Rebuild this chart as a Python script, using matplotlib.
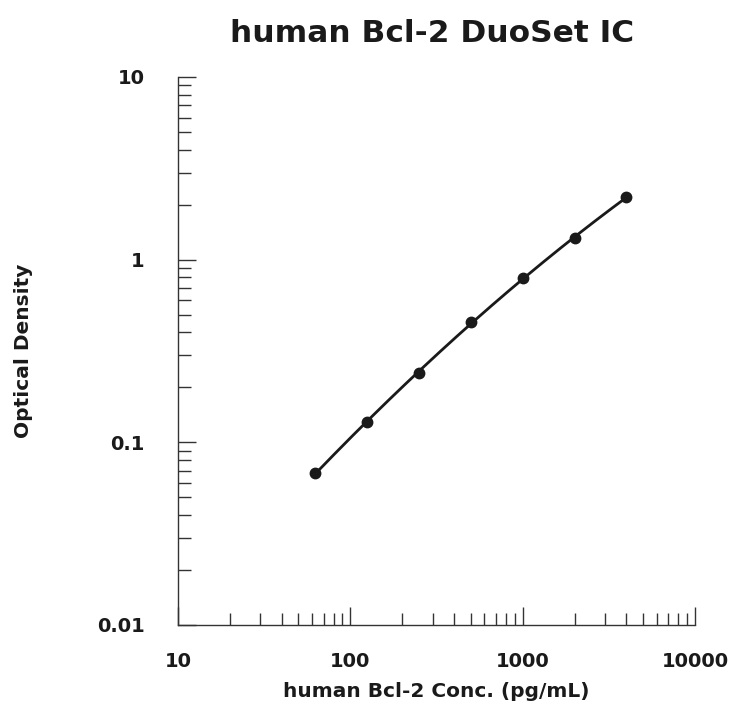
import numpy as np
import matplotlib
matplotlib.use("Agg")
import matplotlib.pyplot as plt
from matplotlib.ticker import LogLocator, NullFormatter, FixedLocator, FixedFormatter

# 표준곡선 데이터 (pg/mL, OD)
conc = [62.5, 125, 250, 500, 1000, 2000, 4000]
od = [0.0677, 0.1297, 0.239, 0.454, 0.791, 1.319, 2.19]

x_ticks = [10, 100, 1000, 10000]
x_tick_labels = ["10", "100", "1000", "10000"]
y_ticks = [0.01, 0.1, 1, 10]
y_tick_labels = ["0.01", "0.1", "1", "10"]

plt.rcParams['font.family'] = ['DejaVu Sans']
plt.rcParams['font.weight'] = 'bold'

fig = plt.figure(figsize=(7.32, 7.17), dpi=100)
ax = fig.add_axes([178/732, 92/717, 517/732, 548/717])

# 곡선: log-log 2차 피팅
lx = np.log10(conc)
ly = np.log10(od)
coef = np.polyfit(lx, ly, 2)
xs = np.linspace(lx[0], lx[-1], 200)
ax.plot(10**xs, 10**np.polyval(coef, xs), color='#1a1a1a', linewidth=2)
ax.plot(conc, od, 'o', color='#1a1a1a', markersize=7.5)

ax.set_xscale('log')
ax.set_yscale('log')
ax.set_xlim(10, 10000)
ax.set_ylim(0.01, 10)

for s in ['top', 'right']:
    ax.spines[s].set_visible(False)
for s in ['left', 'bottom']:
    ax.spines[s].set_linewidth(1.0)
    ax.spines[s].set_color('#333333')

ax.xaxis.set_major_locator(FixedLocator(x_ticks))
ax.xaxis.set_major_formatter(FixedFormatter(x_tick_labels))
ax.yaxis.set_major_locator(FixedLocator(y_ticks))
ax.yaxis.set_major_formatter(FixedFormatter(y_tick_labels))
ax.xaxis.set_minor_locator(LogLocator(base=10, subs=np.arange(2, 10)))
ax.yaxis.set_minor_locator(LogLocator(base=10, subs=np.arange(2, 10)))
ax.xaxis.set_minor_formatter(NullFormatter())
ax.yaxis.set_minor_formatter(NullFormatter())

ax.tick_params(axis='both', which='major', direction='in', length=13, width=1.0,
               color='#333333', labelsize=14, labelcolor='#1a1a1a')
ax.tick_params(axis='both', which='minor', direction='in', length=9, width=1.0,
               color='#333333')
ax.tick_params(axis='x', which='major', pad=19.5)
ax.tick_params(axis='y', which='major', pad=24)

ax.set_xlabel('human Bcl-2 Conc. (pg/mL)', fontsize=14.5, fontweight='bold',
              labelpad=8, color='#1a1a1a')
ax.set_ylabel('Optical Density', fontsize=14.5, fontweight='bold',
              labelpad=46, color='#1a1a1a')
fig.text(432/732, 1 - 33/717, 'human Bcl-2 DuoSet IC', ha='center', va='center',
         fontsize=22.5, fontweight='bold', color='#1a1a1a')

fig.savefig('out.png', dpi=100)
